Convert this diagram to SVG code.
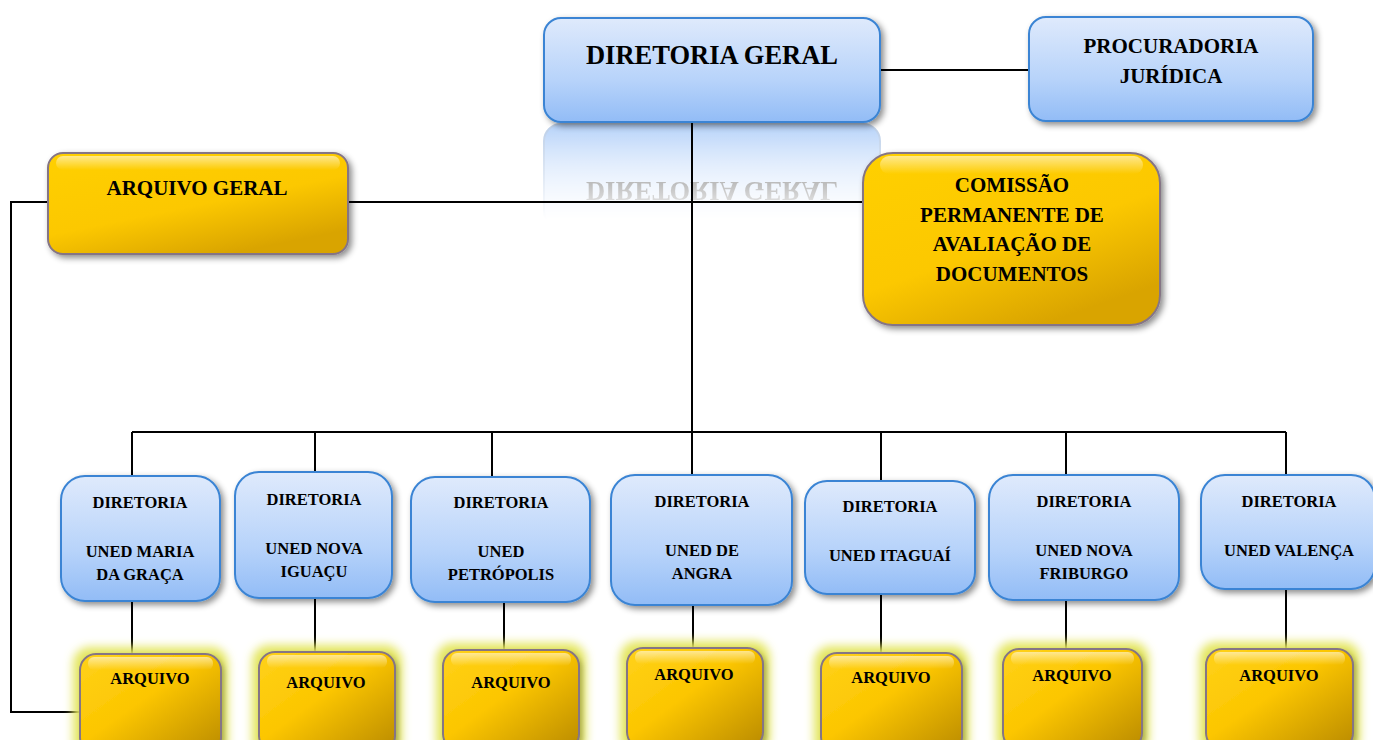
<svg xmlns="http://www.w3.org/2000/svg" width="1373" height="740" viewBox="0 0 1373 740">
<style>
.blue{fill:url(#gBlue);stroke:#3a84d4;stroke-width:2;filter:url(#shadow)}
.gold{fill:url(#gGoldBig);stroke:#857585;stroke-width:2;filter:url(#shadow)}
.goldg{fill:url(#gGold);stroke:#857585;stroke-width:2;filter:url(#glow)}
.gloss{fill:url(#gGloss)}
.t{font-family:"Liberation Serif","DejaVu Serif",serif;font-weight:bold;text-anchor:middle;fill:#000}
.s15{font-size:16.5px}
.s20{font-size:21px}
.conn line,.conn path{stroke:#000;stroke-width:2;fill:none}
</style>
<defs>
<linearGradient id="gBlue" x1="0" y1="0" x2="0" y2="1">
<stop offset="0" stop-color="#dfeafc"/>
<stop offset="0.6" stop-color="#b7d3fa"/>
<stop offset="1" stop-color="#92bcf6"/>
</linearGradient>
<linearGradient id="gGold" x1="0" y1="0" x2="1" y2="1">
<stop offset="0" stop-color="#ffd21a"/>
<stop offset="0.45" stop-color="#fcc600"/>
<stop offset="1" stop-color="#b98a00"/>
</linearGradient>
<linearGradient id="gGoldBig" x1="0" y1="0" x2="0.6" y2="1">
<stop offset="0" stop-color="#ffd000"/>
<stop offset="0.6" stop-color="#fcc800"/>
<stop offset="1" stop-color="#d9a400"/>
</linearGradient>
<linearGradient id="gGloss" x1="0" y1="0" x2="0" y2="1">
<stop offset="0" stop-color="#fff" stop-opacity="0.55"/>
<stop offset="1" stop-color="#fff" stop-opacity="0"/>
</linearGradient>
<linearGradient id="gFade" x1="0" y1="0" x2="0" y2="1">
<stop offset="0" stop-color="#fff" stop-opacity="0.7"/>
<stop offset="0.9" stop-color="#fff" stop-opacity="0"/>
</linearGradient>
<filter id="shadow" x="-10%" y="-10%" width="125%" height="130%">
<feDropShadow dx="3" dy="3" stdDeviation="3" flood-color="#000" flood-opacity="0.45"/>
</filter>
<filter id="glow" x="-25%" y="-25%" width="150%" height="150%">
<feMorphology in="SourceAlpha" operator="dilate" radius="6" result="d"/>
<feGaussianBlur in="d" stdDeviation="5" result="b"/>
<feFlood flood-color="#e4e660" flood-opacity="1"/>
<feComposite in2="b" operator="in" result="g"/>
<feDropShadow in="SourceGraphic" dx="3" dy="3" stdDeviation="2.5" flood-color="#000" flood-opacity="0.45" result="s"/>
<feMerge><feMergeNode in="g"/><feMergeNode in="s"/></feMerge>
</filter>
<mask id="refMask" maskUnits="userSpaceOnUse" x="530" y="121" width="370" height="110">
<rect x="530" y="121" width="370" height="110" fill="url(#gFade)"/>
</mask>
</defs>
<rect width="1373" height="740" fill="#fff"/>

<g id="reflection" mask="url(#refMask)">
<g transform="translate(0,246) scale(1,-1)">
<rect x="544" y="18" width="336" height="104" rx="17" fill="url(#gBlue)" stroke="#9cb8de" stroke-width="2"/>
<text class="t" x="712" y="64" font-size="26.5" fill="#000">DIRETORIA GERAL</text>
</g>
</g>

<g id="connectors" class="conn">
<line x1="880" y1="70" x2="1029" y2="70"/>
<line x1="348" y1="202" x2="863" y2="202"/>
<path d="M48 202 H11 V712 H80"/>
<line x1="692" y1="122" x2="692" y2="475"/>
<line x1="132" y1="432" x2="1286" y2="432"/>
<line x1="132" y1="432" x2="132" y2="476"/>
<line x1="315" y1="432" x2="315" y2="472"/>
<line x1="492" y1="432" x2="492" y2="477"/>
<line x1="881" y1="432" x2="881" y2="481"/>
<line x1="1066" y1="432" x2="1066" y2="475"/>
<line x1="1286" y1="432" x2="1286" y2="475"/>
<line x1="132" y1="601" x2="132" y2="654"/>
<line x1="315" y1="598" x2="315" y2="652"/>
<line x1="504" y1="602" x2="504" y2="654"/>
<line x1="693" y1="605" x2="693" y2="649"/>
<line x1="881" y1="594" x2="881" y2="653"/>
<line x1="1066" y1="600" x2="1066" y2="650"/>
<line x1="1286" y1="589" x2="1286" y2="650"/>
</g>

<g id="diretoria-geral">
<rect class="blue" x="544" y="18" width="336" height="104" rx="17"/>
<text class="t" x="712" y="64" font-size="26.5">DIRETORIA GERAL</text>
</g>
<g id="procuradoria">
<rect class="blue" x="1029" y="17" width="284" height="104" rx="17"/>
<text class="t s20" x="1171" y="53">PROCURADORIA</text>
<text class="t s20" x="1171" y="83">JURÍDICA</text>
</g>
<g id="arquivo-geral">
<rect class="gold" x="48" y="153" width="300" height="101" rx="15"/>
<rect class="gloss" x="56" y="156" width="284" height="14" rx="7"/>
<text class="t s20" x="197" y="195">ARQUIVO GERAL</text>
</g>
<g id="comissao">
<rect class="gold" x="863" y="153" width="297" height="172" rx="30"/>
<rect class="gloss" x="880" y="156" width="263" height="18" rx="9"/>
<text class="t s20" x="1012" y="192">COMISSÃO</text>
<text class="t s20" x="1012" y="222">PERMANENTE DE</text>
<text class="t s20" x="1012" y="251">AVALIAÇÃO DE</text>
<text class="t s20" x="1012" y="281">DOCUMENTOS</text>
</g>

<g id="uned-maria-da-graca">
<rect class="blue" x="61" y="476" width="159" height="125" rx="24"/>
<text class="t s15" x="140" y="508">DIRETORIA</text>
<text class="t s15" x="140" y="557">UNED MARIA</text>
<text class="t s15" x="140" y="580">DA GRAÇA</text>
</g>
<g id="uned-nova-iguacu">
<rect class="blue" x="235" y="472" width="157" height="126" rx="24"/>
<text class="t s15" x="314" y="505">DIRETORIA</text>
<text class="t s15" x="314" y="554">UNED NOVA</text>
<text class="t s15" x="314" y="577">IGUAÇU</text>
</g>
<g id="uned-petropolis">
<rect class="blue" x="411" y="477" width="179" height="125" rx="24"/>
<text class="t s15" x="501" y="508">DIRETORIA</text>
<text class="t s15" x="501" y="557">UNED</text>
<text class="t s15" x="501" y="580">PETRÓPOLIS</text>
</g>
<g id="uned-angra">
<rect class="blue" x="611" y="475" width="181" height="130" rx="24"/>
<text class="t s15" x="702" y="507">DIRETORIA</text>
<text class="t s15" x="702" y="556">UNED DE</text>
<text class="t s15" x="702" y="579">ANGRA</text>
</g>
<g id="uned-itaguai">
<rect class="blue" x="805" y="481" width="170" height="113" rx="22"/>
<text class="t s15" x="890" y="512">DIRETORIA</text>
<text class="t s15" x="890" y="561">UNED ITAGUAÍ</text>
</g>
<g id="uned-nova-friburgo">
<rect class="blue" x="989" y="475" width="190" height="125" rx="24"/>
<text class="t s15" x="1084" y="507">DIRETORIA</text>
<text class="t s15" x="1084" y="556">UNED NOVA</text>
<text class="t s15" x="1084" y="579">FRIBURGO</text>
</g>
<g id="uned-valenca">
<rect class="blue" x="1201" y="475" width="174" height="114" rx="24"/>
<text class="t s15" x="1289" y="507">DIRETORIA</text>
<text class="t s15" x="1289" y="556">UNED VALENÇA</text>
</g>

<g id="arquivo-1">
<rect class="goldg" x="80" y="654" width="141" height="100" rx="16"/>
<rect class="gloss" x="88" y="657" width="125" height="13" rx="6"/>
<text class="t s15" x="150" y="684">ARQUIVO</text>
</g>
<g id="arquivo-2">
<rect class="goldg" x="259" y="652" width="136" height="100" rx="16"/>
<rect class="gloss" x="267" y="655" width="120" height="13" rx="6"/>
<text class="t s15" x="326" y="688">ARQUIVO</text>
</g>
<g id="arquivo-3">
<rect class="goldg" x="443" y="650" width="136" height="100" rx="16"/>
<rect class="gloss" x="451" y="653" width="120" height="13" rx="6"/>
<text class="t s15" x="511" y="688">ARQUIVO</text>
</g>
<g id="arquivo-4">
<rect class="goldg" x="627" y="648" width="136" height="100" rx="16"/>
<rect class="gloss" x="635" y="651" width="120" height="13" rx="6"/>
<text class="t s15" x="694" y="680">ARQUIVO</text>
</g>
<g id="arquivo-5">
<rect class="goldg" x="821" y="653" width="141" height="100" rx="16"/>
<rect class="gloss" x="829" y="656" width="125" height="13" rx="6"/>
<text class="t s15" x="891" y="683">ARQUIVO</text>
</g>
<g id="arquivo-6">
<rect class="goldg" x="1003" y="649" width="139" height="100" rx="16"/>
<rect class="gloss" x="1011" y="652" width="123" height="13" rx="6"/>
<text class="t s15" x="1072" y="681">ARQUIVO</text>
</g>
<g id="arquivo-7">
<rect class="goldg" x="1206" y="649" width="147" height="100" rx="16"/>
<rect class="gloss" x="1214" y="652" width="131" height="13" rx="6"/>
<text class="t s15" x="1279" y="681">ARQUIVO</text>
</g>
</svg>
